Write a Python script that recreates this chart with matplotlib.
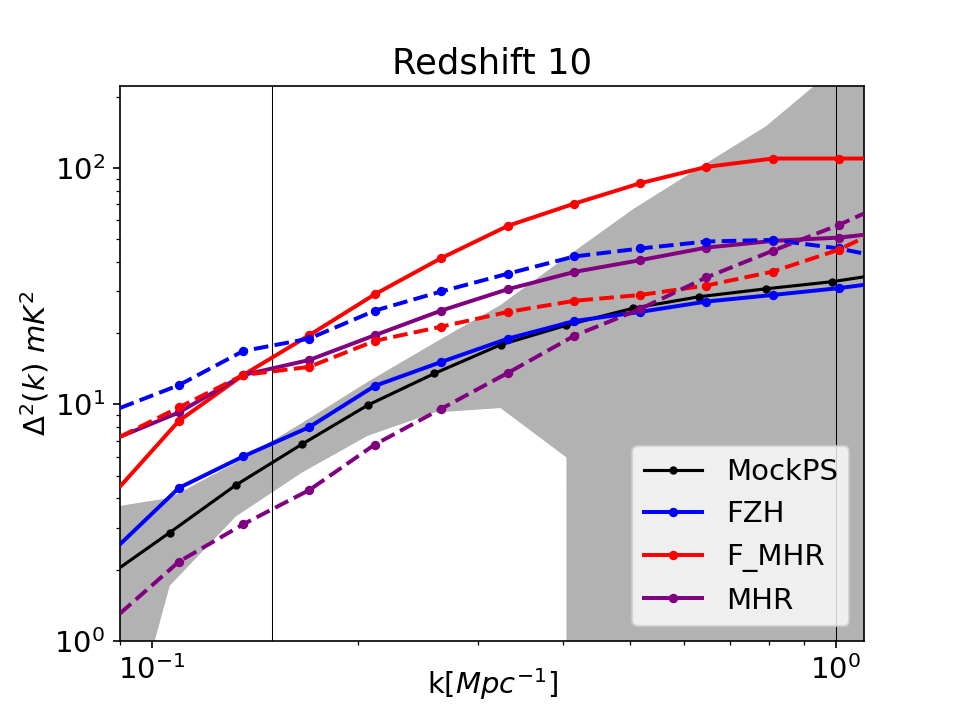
import numpy as np
import matplotlib
matplotlib.use("Agg")
import matplotlib.pyplot as plt
from matplotlib.ticker import NullFormatter

# k grid of the mock power spectrum (first/last entries are the plot edges)
k_mock = [0.0899, 0.1063, 0.1327, 0.166, 0.207, 0.259, 0.3236, 0.404, 0.506, 0.631, 0.791, 0.988, 1.10]
mock = [2.04, 2.87, 4.55, 6.79, 9.92, 13.5, 17.85, 21.6, 25.5, 28.5, 30.8, 33.0, 34.6]
mock_upper = [3.72, 4.02, 5.66, 8.35, 12.45, 18.2, 26.3, 42.0, 67.0, 100.0, 150.0, 257.0, 350.0]
mock_lower = [0.29, 1.71, 3.35, 5.15, 7.36, 9.23, 9.64, 5.96, -16.0, -43.0, -88.0, -191.0, -281.0]

# k grid of the models (first/last entries are the plot edges)
k_model = [0.0899, 0.1096, 0.1361, 0.170, 0.212, 0.265, 0.332, 0.415, 0.518, 0.647, 0.809, 1.011, 1.10]
fzh = [2.56, 4.43, 6.02, 8.01, 11.97, 15.1, 18.97, 22.5, 24.6, 27.2, 29.0, 31.0, 32.0]
fzh_dash = [9.65, 12.05, 16.8, 18.97, 24.9, 30.0, 35.7, 42.2, 45.6, 48.8, 49.6, 45.6, 43.4]
fmhr = [4.49, 8.51, 13.3, 19.6, 29.2, 41.5, 56.9, 70.6, 86.1, 100.9, 109.5, 109.5, 109.5]
fmhr_dash = [7.29, 9.70, 13.3, 14.4, 18.55, 21.3, 24.6, 27.4, 29.0, 31.8, 36.4, 45.1, 50.7]
mhr = [7.29, 9.24, 13.3, 15.4, 19.6, 24.9, 30.7, 36.3, 40.7, 46.0, 49.1, 50.7, 52.1]
mhr_dash = [1.305, 2.16, 3.11, 4.34, 6.76, 9.57, 13.6, 19.5, 25.3, 34.4, 44.6, 57.4, 64.1]

labels = ["MockPS", "FZH", "F_MHR", "MHR"]
vlines_k = [0.15, 1.0]

fig, ax = plt.subplots(figsize=(6.4, 4.8), dpi=150)
ax.set_xscale("log")
ax.set_yscale("log")

ax.fill_between(k_mock, mock_lower, mock_upper, color="k", alpha=0.3, linewidth=0, zorder=1)
for kv in vlines_k:
    ax.axvline(kv, color="k", lw=0.5, zorder=1.5)

mev = slice(1, -1)
ax.plot(k_mock, mock, "k.-", lw=1.5, ms=6, markevery=mev, label=labels[0], zorder=3)
ax.plot(k_model, fzh, ".-", color="b", lw=1.9, ms=7, markevery=mev, label=labels[1], zorder=3)
ax.plot(k_model, fmhr, ".-", color="r", lw=1.9, ms=7, markevery=mev, label=labels[2], zorder=3)
ax.plot(k_model, mhr, ".-", color="purple", lw=1.9, ms=7, markevery=mev, label=labels[3], zorder=3)
ax.plot(k_model, fzh_dash, ".--", color="b", lw=1.9, ms=7, markevery=mev, zorder=3)
ax.plot(k_model, fmhr_dash, ".--", color="r", lw=1.9, ms=7, markevery=mev, zorder=3)
ax.plot(k_model, mhr_dash, ".--", color="purple", lw=1.9, ms=7, markevery=mev, zorder=3)

ax.set_xlim(k_mock[0], k_mock[-1])
ax.set_ylim(1, 221)
ax.xaxis.set_minor_formatter(NullFormatter())
ax.yaxis.set_minor_formatter(NullFormatter())
ax.tick_params(labelsize=14)

ax.set_title("Redshift 10", fontsize=17)
ax.set_xlabel(r"k[$Mpc^{-1}$]", fontsize=14)
ax.set_ylabel(r"$\Delta^2(k)\ mK^2$", fontsize=14)
ax.xaxis.set_label_coords(0.5, -0.045)
ax.yaxis.set_label_coords(-0.092, 0.5)
ax.legend(loc="lower right", fontsize=14)

fig.savefig("out.png", dpi=150)
